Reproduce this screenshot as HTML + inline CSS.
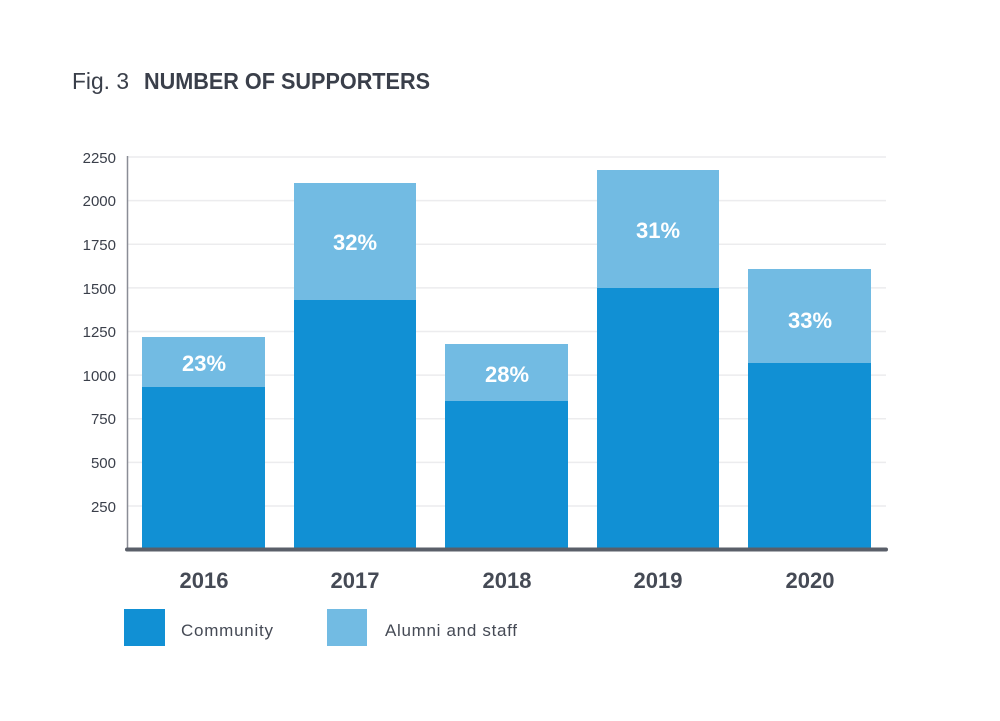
<!DOCTYPE html>
<html><head><meta charset="utf-8"><style>
body{margin:0;background:#fff;}
svg{display:block;font-family:"Liberation Sans",sans-serif;}
</style></head><body>
<svg width="1000" height="721" viewBox="0 0 1000 721">
<text x="72" y="89" font-size="23" fill="#3a3f4a" textLength="57" lengthAdjust="spacingAndGlyphs">Fig. 3</text>
<text x="144" y="89" font-size="23" font-weight="bold" fill="#3a3f4a" textLength="286" lengthAdjust="spacingAndGlyphs">NUMBER OF SUPPORTERS</text>
<g stroke="#ececee" stroke-width="1.5">
<line x1="127" y1="157" x2="886" y2="157"/>
<line x1="127" y1="200.6" x2="886" y2="200.6"/>
<line x1="127" y1="244.3" x2="886" y2="244.3"/>
<line x1="127" y1="287.9" x2="886" y2="287.9"/>
<line x1="127" y1="331.5" x2="886" y2="331.5"/>
<line x1="127" y1="375.1" x2="886" y2="375.1"/>
<line x1="127" y1="418.8" x2="886" y2="418.8"/>
<line x1="127" y1="462.4" x2="886" y2="462.4"/>
<line x1="127" y1="506" x2="886" y2="506"/>
</g>
<line x1="127.5" y1="156" x2="127.5" y2="549" stroke="#8a8d96" stroke-width="1.5"/>
<g font-size="15" fill="#3a3f4a" text-anchor="end">
<text x="116" y="163">2250</text><text x="116" y="206">2000</text><text x="116" y="250">1750</text>
<text x="116" y="294">1500</text><text x="116" y="337">1250</text><text x="116" y="381">1000</text>
<text x="116" y="424">750</text><text x="116" y="468">500</text><text x="116" y="512">250</text>
</g>
<g fill="#1190d4">
<rect x="142" y="387" width="123" height="162"/>
<rect x="294" y="300" width="122" height="249"/>
<rect x="445" y="401" width="123" height="148"/>
<rect x="597" y="288" width="122" height="261"/>
<rect x="748" y="363" width="123" height="186"/>
</g>
<g fill="#72bbe3">
<rect x="142" y="337" width="123" height="50"/>
<rect x="294" y="183" width="122" height="117"/>
<rect x="445" y="344" width="123" height="57"/>
<rect x="597" y="170" width="122" height="118"/>
<rect x="748" y="269" width="123" height="94"/>
</g>
<g font-size="22" font-weight="bold" fill="#fff" text-anchor="middle">
<text x="204" y="371">23%</text><text x="355" y="250">32%</text><text x="507" y="382">28%</text>
<text x="658" y="238">31%</text><text x="810" y="328">33%</text>
</g>
<line x1="127" y1="549.5" x2="886" y2="549.5" stroke="#5a5f69" stroke-width="4" stroke-linecap="round"/>
<g font-size="22" font-weight="bold" fill="#454a55" text-anchor="middle">
<text x="204" y="588">2016</text><text x="355" y="588">2017</text><text x="507" y="588">2018</text>
<text x="658" y="588">2019</text><text x="810" y="588">2020</text>
</g>
<rect x="124" y="609" width="41" height="37" fill="#1190d4"/>
<rect x="327" y="609" width="40" height="37" fill="#72bbe3"/>
<g font-size="17" fill="#454a55">
<text x="181" y="636" textLength="92">Community</text><text x="385" y="636" textLength="132">Alumni and staff</text>
</g>
</svg>
</body></html>
